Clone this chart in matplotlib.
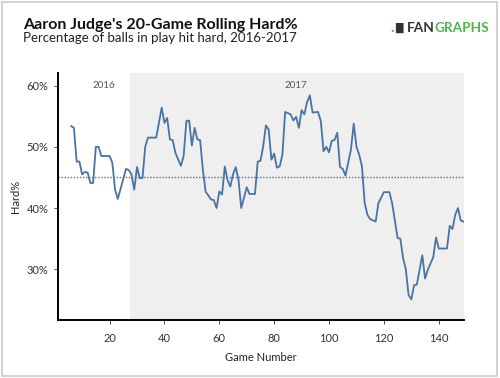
"""
Aaron Judge 20-game rolling hard-hit rate, 2016-2017
"""
import matplotlib.pyplot as plt
from matplotlib.patches import Rectangle

# Game number and rolling Hard%
games = [6, 7, 8, 9, 10, 11, 12, 13, 14, 15, 16, 17, 18, 19, 20, 21, 22, 23,
         26, 27, 28, 29, 30, 31, 32, 33, 34, 35, 36, 37, 39, 40, 41, 42, 43,
         44, 46, 47, 48, 49, 50, 51, 52, 53, 54, 55, 57, 58, 59, 60, 61, 62,
         63, 64, 65, 66, 67, 68, 70, 71, 72, 73, 74, 75, 76, 77, 78, 79, 80,
         81, 82, 83, 84, 86, 87, 88, 89, 90, 91, 92, 93, 94, 96, 97, 98, 99,
         100, 101, 102, 103, 104, 105, 106, 108, 109, 110, 111, 112, 113, 114,
         115, 117, 118, 120, 122, 123, 125, 126, 127, 128, 129, 130, 131, 132,
         134, 135, 136, 138, 139, 140, 143, 144, 145, 146, 147, 148, 149]
hard_pct = [53.4, 53.1, 47.6, 47.6, 45.5, 45.9, 45.8, 44.1, 44.1, 50.0, 50.0,
            48.5, 48.5, 48.5, 48.5, 47.4, 43.0, 41.5,
            46.4, 46.2, 45.5, 43.0, 46.7, 44.9, 44.9, 50.0, 51.5, 51.5, 51.5,
            51.5, 56.4, 53.9, 54.7, 51.2, 51.1,
            49.0, 46.9, 48.5, 54.2, 54.3, 50.2, 53.1, 51.2, 51.1, 46.3, 42.7,
            41.4, 41.3, 40.0, 42.7, 42.2, 46.8,
            44.6, 43.5, 45.5, 46.7, 44.6, 40.0, 43.4, 42.3, 42.3, 42.3, 47.6,
            47.7, 50.1, 53.5, 52.8, 47.9, 48.9,
            46.6, 46.8, 48.7, 55.7, 55.3, 54.3, 54.9, 53.1, 56.0, 55.3, 57.3,
            58.4, 55.6, 55.7, 54.2, 49.3, 50.0,
            49.1, 51.0, 51.1, 52.3, 46.7, 46.4, 45.3, 49.6, 53.8, 50.0, 48.7,
            46.8, 40.8, 38.9,
            38.2, 37.8, 40.8, 42.6, 42.6, 40.8, 35.1, 35.0, 31.8, 30.0, 25.8,
            25.1, 27.4, 27.5,
            32.3, 28.5, 29.9, 32.0, 35.2, 33.4, 33.4, 37.1, 36.6, 38.9, 40.0,
            38.0, 37.8]

league_avg = 45.0
season_start_2017 = 27.6
y_ticks = [30, 40, 50, 60]
x_ticks = [20, 40, 60, 80, 100, 120, 140]

plt.rcParams['font.family'] = ['Lato', 'DejaVu Sans']

fig = plt.figure(figsize=(5, 3.78), dpi=100)
ax = fig.add_axes([0.116, 0.153, 0.812, 0.653])

# 2017 shaded region
ax.axvspan(season_start_2017, 160, color='#efefef', lw=0, zorder=0)

ax.axhline(league_avg, color='#4a73a3', lw=1.0, ls=(0, (1, 1.2)), zorder=1)
ax.plot(games, hard_pct, color='#4a73a3', lw=1.3, zorder=2)

ax.text(18, 60, '2016', ha='center', va='center', fontsize=7, color='#555555')
ax.text(88, 60, '2017', ha='center', va='center', fontsize=7, color='#555555')

ax.set_xlim(1.2, 149.2)
ax.set_ylim(21.7, 62)
ax.set_xticks(x_ticks)
ax.set_yticks(y_ticks)
ax.set_yticklabels([f'{t}%' for t in y_ticks])
ax.tick_params(labelsize=8, colors='#333333', length=3, width=0.6, pad=6)
ax.tick_params(axis='y', pad=4)

for side in ['top', 'right']:
    ax.spines[side].set_visible(False)
for side in ['left', 'bottom']:
    ax.spines[side].set_linewidth(1.4)
    ax.spines[side].set_color('black')

ax.set_ylabel('Hard%', fontsize=8, color='#222222', labelpad=4)
ax.set_xlabel('Game Number', fontsize=8, color='#222222', labelpad=6)

# Title block
fig.text(0.046, 0.924, "Aaron Judge's 20-Game Rolling Hard%", fontsize=11.5,
         fontweight='bold', color='#111111', va='baseline')
fig.text(0.046, 0.889, 'Percentage of balls in play hit hard, 2016-2017',
         fontsize=9.5, color='#222222', va='baseline')

# FanGraphs logo
fig.text(0.781, 0.926, '.', fontsize=11, fontweight='bold', color='#4cb84c',
         va='center')
fig.text(0.790, 0.926, '\u2588', fontsize=7, color='#333333', va='center',
         family='DejaVu Sans')
fan = fig.text(0.814, 0.926, 'FAN', fontsize=9.8, fontweight='bold',
               color='#333333', va='center')
plt.annotate('GRAPHS', xy=(1, 0.5), xycoords=fan, fontsize=9.8,
             fontweight='bold', color='#4cb84c', va='center', ha='left',
             annotation_clip=False)

# Frame around the image
fig.patches.append(Rectangle((0.004, 0.005), 0.99, 0.99, transform=fig.transFigure,
                             fill=False, edgecolor='#cccccc', lw=1.2))

fig.savefig('out.png', dpi=100)
